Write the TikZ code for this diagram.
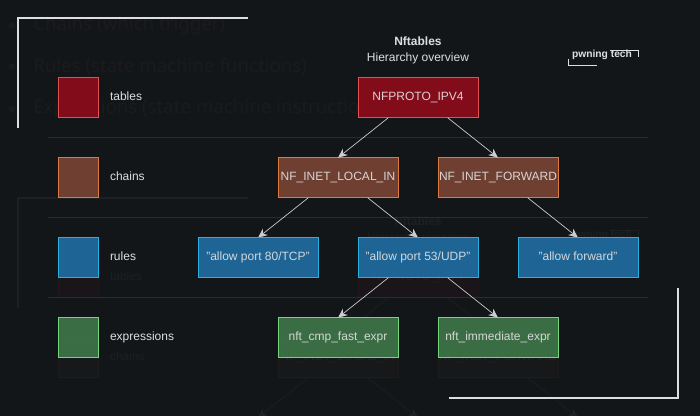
\documentclass[tikz,border=0pt]{standalone}
\usepackage{fontspec}
\setmainfont{Liberation Sans}
\newfontfamily\bulletfont{Noto Sans}
\usetikzlibrary{arrows.meta}
\usetikzlibrary{positioning}

\definecolor{pagebg}{HTML}{131619}
\definecolor{inktext}{HTML}{DEDEDE}
\definecolor{linkline}{HTML}{CFCFCF}
\definecolor{ghosttext}{HTML}{1C1A1D}
\definecolor{seprule}{HTML}{2A2D2E}
\definecolor{tablefill}{HTML}{8A0C1C}
\definecolor{tableline}{HTML}{E05252}
\definecolor{chainfill}{HTML}{754233}
\definecolor{chainline}{HTML}{DD7A42}
\definecolor{rulefill}{HTML}{1F6A9E}
\definecolor{ruleline}{HTML}{2AB0E0}
\definecolor{exprfill}{HTML}{3E7347}
\definecolor{exprline}{HTML}{74D67A}

\tikzset{
    layer/.style={fill opacity=0.94},
    box/.style={draw, rectangle, line width=0.75pt, inner sep=0pt, outer sep=0pt, text height=7pt, text depth=2.5pt, minimum width=90pt, minimum height=30pt, align=center, layer},
    tablebox/.style={box, fill=tablefill, draw=tableline},
    chainbox/.style={box, fill=chainfill, draw=chainline},
    rulebox/.style={box, fill=rulefill, draw=ruleline},
    exprbox/.style={box, fill=exprfill, draw=exprline},
    lbl/.style={inner sep=0pt, outer sep=0pt, text height=7pt, text depth=2.5pt},
    link/.style={-{Stealth[length=7pt, width=6pt]}, draw=linkline, line width=0.5pt},
    frame/.style={draw=inktext, line width=1.5pt, line join=miter},
    seprow/.style={draw=seprule, line width=0.75pt},
    logoline/.style={draw=inktext, line width=0.5pt},
    bullet/.style={inner sep=0pt, anchor=west, text=ghosttext, font=\bulletfont\fontsize{14pt}{16pt}\selectfont}
}

% top of a slide, #1 prefixes the node names
\newcommand{\drawslidetop}[1]{
    % Corner frame
    \coordinate (#1ftl) at (18,17);
    \coordinate (#1ftr) at (248,17);
    \coordinate (#1fbl) at (18,127);
    \draw[frame] (#1ftr) -- (#1ftl) -- (#1fbl);

    % Title and logo
    \node (#1title) [inner sep=0pt, align=center] at (418,50) {\textbf{Nftables}\\[1.5pt]Hierarchy overview};
    \node (#1logo) [inner sep=0pt, font=\fontsize{7.7pt}{9pt}\selectfont\bfseries] at (602,54.5) {pwning tech};
    \draw[logoline] (610,49.5) -- (638.5,49.5) -- (638.5,56);
    \draw[logoline] (568.5,58) -- (568.5,65) -- (597,65);

    % Legend
    \node (#1legtable) [tablebox, minimum width=30pt] at (78,97) {};
    \node (#1legchain) [chainbox, minimum width=30pt, below=30pt of #1legtable] {};
    \node (#1txttable) [lbl, right=9pt of #1legtable] {tables};
    \node (#1txtchain) [lbl, right=9pt of #1legchain] {chains};

    % Table
    \node (#1ipv4) [tablebox] at (418,97) {NFPROTO\_IPV4};

    % Chains
    \node (#1localin) [chainbox, below left=30pt and -30pt of #1ipv4] {NF\_INET\_LOCAL\_IN};
    \node (#1forward) [chainbox, below right=30pt and -30pt of #1ipv4] {NF\_INET\_FORWARD};

    % Connect arrows
    \draw[link] (#1ipv4.-146) -- (#1localin.north);
    \draw[link] (#1ipv4.-34) -- (#1forward.north);
    \draw[link] (#1localin.-146) -- (#1tcp);
    \draw[link] (#1localin.-34) -- (#1udp);
    \draw[link] (#1forward.-34) -- (#1allow);
}

\begin{document}
\begin{tikzpicture}[
    x=0.75pt, y=-0.75pt,
    every node/.style={text=inktext, font=\fontsize{9pt}{10.5pt}\selectfont}
]

    \fill[pagebg] (0,-0.7) rectangle (700,415.3);
    \useasboundingbox (0,-0.7) rectangle (700,415.3);

    % Bullets left over from the slide before
    \foreach \rowy/\rowname/\rowtext in {25/chains/Chains (which trigger),66/rules/Rules (state machine functions),108/exprs/Expressions (state machine instructions)} {
        \node (bul\rowname) [bullet] at (33,\rowy) {\rowtext};
        \fill[ghosttext] (12,\rowy) circle (3.5);
    }

    % Next slide, shining through
    \begin{scope}[yshift=-135pt, opacity=0.05, layer/.style={}]
        \coordinate (ntcp) at (258,237);
        \coordinate (nudp) at (418,237);
        \coordinate (nallow) at (578,237);
        \drawslidetop{n}
    \end{scope}

    % Row separators
    \foreach \rowy in {137,217,297}
        \draw[seprow] (48,\rowy) -- (648,\rowy);

    % Rule row first, the arrows of the top part end on it
    \coordinate (tcp) at (258,237);
    \coordinate (udp) at (418,237);
    \coordinate (allow) at (578,237);
    \drawslidetop{}

    % Bottom corner frame
    \coordinate (gtr) at (678,287);
    \coordinate (gbr) at (678,397);
    \coordinate (gbl) at (449,397);
    \draw[frame] (gtr) -- (gbr) -- (gbl);

    % Rest of the legend
    \node (legrule) [rulebox, minimum width=30pt, below=30pt of legchain] {};
    \node (legexpr) [exprbox, minimum width=30pt, below=30pt of legrule] {};
    \node (txtrule) [lbl, right=9pt of legrule] {rules};
    \node (txtexpr) [lbl, right=9pt of legexpr] {expressions};

    % Rules
    \node (tcp) [rulebox, below left=30pt and -30pt of localin] {"allow port 80/TCP"};
    \node (udp) [rulebox, below right=30pt and -30pt of localin] {"allow port 53/UDP"};
    \node (allow) [rulebox, below right=30pt and -30pt of forward] {"allow forward"};

    % Expressions
    \node (cmp) [exprbox, below left=30pt and -30pt of udp] {nft\_cmp\_fast\_expr};
    \node (imm) [exprbox, below right=30pt and -30pt of udp] {nft\_immediate\_expr};

    % Connect arrows
    \draw[link] (udp.-146) -- (cmp.north);
    \draw[link] (udp.-34) -- (imm.north);

\end{tikzpicture}
\end{document}
